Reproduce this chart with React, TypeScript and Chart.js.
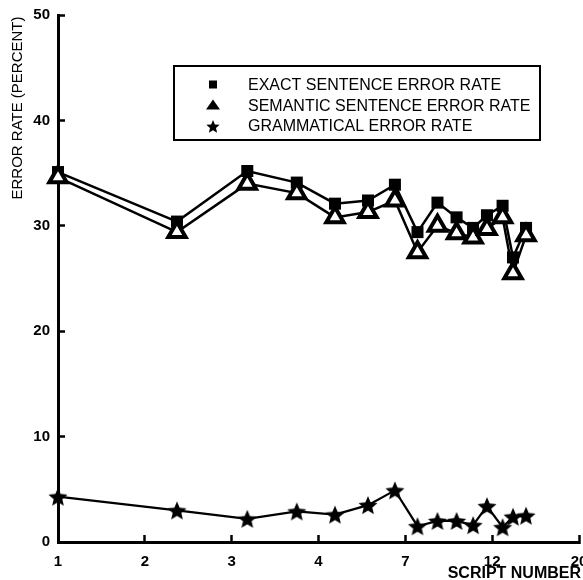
import React, { useEffect, useRef } from "react";
import { Chart, registerables } from "chart.js";

Chart.register(...registerables);

// ---- data ----
const xTickLabels = ["1", "2", "3", "4", "7", "12", "20"];
const scriptPos = [0, 1.37, 2.18, 2.75, 3.19, 3.57, 3.88, 4.14, 4.37, 4.59, 4.78, 4.94, 5.12, 5.24, 5.39];
const exactRate = [35.1, 30.4, 35.2, 34.1, 32.1, 32.4, 33.9, 29.4, 32.2, 30.8, 29.8, 31.0, 31.9, 27.0, 29.8];
const semanticRate = [34.6, 29.4, 34.0, 33.1, 30.8, 31.3, 32.4, 27.5, 30.0, 29.3, 28.9, 29.7, 30.8, 25.5, 29.1];
const grammaticalRate = [4.3, 3.0, 2.2, 2.9, 2.6, 3.5, 4.9, 1.5, 2.0, 2.0, 1.6, 3.4, 1.4, 2.4, 2.5];
const seriesLabels = ["EXACT SENTENCE ERROR RATE", "SEMANTIC SENTENCE ERROR RATE", "GRAMMATICAL ERROR RATE"];
const yAxisTitle = "ERROR RATE (PERCENT)";
const xAxisTitle = "SCRIPT NUMBER";

const FONT = "'Liberation Sans', Arial, Helvetica, sans-serif";

function makeStar(outer: number, innerRatio: number) {
  const size = Math.ceil(outer * 2 + 2);
  const c = document.createElement("canvas");
  c.width = size;
  c.height = size;
  const ctx = c.getContext("2d")!;
  ctx.fillStyle = "#000";
  ctx.beginPath();
  for (let i = 0; i < 10; i++) {
    const r = i % 2 === 0 ? outer : outer * innerRatio;
    const a = -Math.PI / 2 + (i * Math.PI) / 5;
    const px = size / 2 + r * Math.cos(a);
    const py = size / 2 + 1 + r * Math.sin(a);
    if (i === 0) ctx.moveTo(px, py);
    else ctx.lineTo(px, py);
  }
  ctx.closePath();
  ctx.fill();
  return c;
}

const toPoints = (ys: number[]) => ys.map((y, i) => ({ x: scriptPos[i], y }));

export default function App() {
  const ref = useRef<HTMLCanvasElement | null>(null);

  useEffect(() => {
    if (!ref.current) return;
    const bigStar = makeStar(10, 0.45);
    const smallStar = makeStar(7, 0.45);

    const annotations = {
      id: "annotations",
      afterDraw(chart: any) {
        const ctx = chart.ctx as CanvasRenderingContext2D;
        ctx.save();
        // y axis title
        ctx.fillStyle = "#000";
        ctx.font = `15px ${FONT}`;
        ctx.textAlign = "center";
        ctx.textBaseline = "middle";
        ctx.translate(18, 108);
        ctx.rotate(-Math.PI / 2);
        ctx.fillText(yAxisTitle, 0, 0);
        ctx.restore();

        ctx.save();
        ctx.fillStyle = "#000";
        ctx.font = `bold 16px ${FONT}`;
        ctx.textAlign = "right";
        ctx.textBaseline = "middle";
        ctx.fillText(xAxisTitle, 581, 574);
        ctx.restore();

        // legend box
        ctx.save();
        ctx.strokeStyle = "#000";
        ctx.lineWidth = 2;
        ctx.strokeRect(174, 66, 366, 74);
        const rows = [84.5, 105.5, 126];
        const mx = 213;
        ctx.fillStyle = "#000";
        // square
        ctx.fillRect(mx - 4, rows[0] - 4, 8, 8);
        // triangle
        ctx.beginPath();
        ctx.moveTo(mx, rows[1] - 6);
        ctx.lineTo(mx + 7, rows[1] + 4);
        ctx.lineTo(mx - 7, rows[1] + 4);
        ctx.closePath();
        ctx.fill();
        // star
        ctx.drawImage(smallStar, mx - smallStar.width / 2, rows[2] - smallStar.height / 2);
        ctx.font = `16px ${FONT}`;
        ctx.textAlign = "left";
        ctx.textBaseline = "middle";
        seriesLabels.forEach((t, i) => ctx.fillText(t, 248, rows[i] + 1));
        ctx.restore();
      },
    };

    const tickFont = { family: FONT, size: 15, weight: "bold" as const };

    const chart = new Chart(ref.current, {
      type: "line",
      data: {
        datasets: [
          {
            label: seriesLabels[1],
            data: toPoints(semanticRate),
            borderColor: "#000",
            borderWidth: 2.5,
            pointStyle: "triangle",
            pointRadius: 10,
            pointBorderWidth: 4,
            pointBorderColor: "#000",
            pointBackgroundColor: "#fff",
            tension: 0,
            clip: false,
          },
          {
            label: seriesLabels[0],
            data: toPoints(exactRate),
            borderColor: "#000",
            borderWidth: 2.5,
            pointStyle: "rect",
            pointRadius: 8.5,
            pointBorderWidth: 0,
            pointBackgroundColor: "#000",
            tension: 0,
            clip: false,
          },
          {
            label: seriesLabels[2],
            data: toPoints(grammaticalRate),
            borderColor: "#000",
            borderWidth: 2.2,
            pointStyle: bigStar as any,
            pointRadius: 9,
            tension: 0,
            clip: false,
          },
        ],
      },
      options: {
        responsive: false,
        animation: false,
        devicePixelRatio: 1,
        layout: { autoPadding: false, padding: { left: 0, top: 15, right: 4, bottom: 0 } },
        plugins: { legend: { display: false }, tooltip: { enabled: false }, title: { display: false } },
        scales: {
          x: {
            type: "linear",
            min: 0,
            max: 6,
            position: "bottom",
            border: { display: true, color: "#000", width: 3 },
            grid: { display: true, drawOnChartArea: false, drawTicks: true, tickLength: -7, tickWidth: 2.5, tickColor: "#000" },
            ticks: {
              stepSize: 1,
              autoSkip: false,
              maxRotation: 0,
              padding: 18,
              color: "#000",
              font: tickFont,
              callback: (v: any) => xTickLabels[Number(v)] ?? "",
            },
            afterFit(scale: any) {
              scale.height = 38;
              scale.paddingLeft = 0;
              scale.paddingRight = 0;
            },
          },
          y: {
            type: "linear",
            min: 0,
            max: 50,
            border: { display: true, color: "#000", width: 3 },
            grid: { display: true, drawOnChartArea: false, drawTicks: true, tickLength: -7, tickWidth: 2.5, tickColor: "#000" },
            ticks: { stepSize: 10, padding: 15, color: "#000", font: tickFont },
            afterFit(scale: any) {
              scale.width = 58;
              scale.paddingTop = 0;
              scale.paddingBottom = 0;
            },
          },
        },
      },
      plugins: [annotations],
    });
    return () => chart.destroy();
  }, []);

  return (
    <div style={{ position: "fixed", left: 0, top: 0, width: 583, height: 580, background: "#fff" }}>
      <canvas ref={ref} width={583} height={580} style={{ display: "block", width: 583, height: 580 }} />
    </div>
  );
}
